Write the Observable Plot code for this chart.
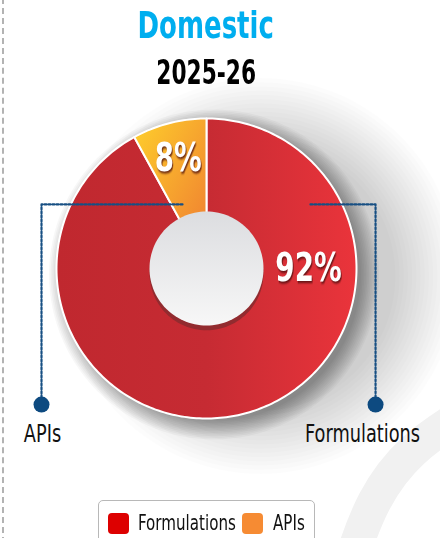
<!DOCTYPE html>
<html><head><meta charset="utf-8">
<script src="https://cdn.jsdelivr.net/npm/d3@7"></script>
<script src="https://cdn.jsdelivr.net/npm/@observablehq/plot@0.6"></script>
<style>
html,body{margin:0;padding:0;background:#fff;}
body{width:440px;height:538px;position:relative;overflow:hidden;font-family:"Liberation Sans Narrow","DejaVu Sans Condensed","DejaVu Sans",sans-serif;font-stretch:condensed;}
#dash{position:absolute;left:2px;top:-2px;height:545px;border-left:2px dashed #b3b3b3;}
.ttl{position:absolute;left:0;width:412px;text-align:center;font-weight:bold;}
.ttl span{display:inline-block;transform-origin:50% 50%;}
#title{top:6px;color:#00aeef;font-size:38px;line-height:38px;}
#title span{transform:scaleX(0.76);}
#sub{top:55px;color:#000;font-size:34px;line-height:34px;}
#sub span{transform:scaleX(0.71);}
#chart{position:absolute;top:90px;left:0;}
#legend{position:absolute;left:98px;top:500px;width:217px;height:50px;box-sizing:border-box;border:1.5px solid #b8b8b8;border-radius:5px;background:#fff;display:flex;align-items:flex-start;padding:10px 0 0 8.5px;font-size:21px;color:#111;white-space:nowrap;}
#legend .sw{width:21px;height:21px;border-radius:4px;display:inline-block;flex:none;}
#legend .it{display:flex;align-items:center;}
#legend .tx{display:inline-block;transform:scaleX(0.8);transform-origin:0 50%;}
</style></head>
<body>
<div id="dash"></div>
<div id="title" class="ttl"><span>Domestic</span></div>
<div id="sub" class="ttl"><span>2025-26</span></div>
<div id="chart"></div>
<div id="legend"></div>
<script>
// ---- data ----
const categories = ["Formulations", "APIs"];
const shares = [92, 8];
const pctLabels = ["92%", "8%"];
const legendColors = ["#dd0000", "#f68b33"];

// ---- layout ----
const W = 440, H = 400, cx = 206, cy = 178, rPx = 150;
const inner = 0.38;
const sx = 0.79; // horizontal condensing of text glyphs
const toXY = (a, r) => [r * Math.sin(a), r * Math.cos(a)];

const rows = categories.map((c, i) => ({category: c, share: shares[i], label: pctLabels[i]}));
const arcs = d3.pie().sort(null).value(d => d.share)(rows);

function arcPoints(a) {
  const pts = [{x: 0, y: 0}];
  const n = Math.max(8, Math.ceil((a.endAngle - a.startAngle) / 0.02));
  for (let k = 0; k <= n; k++) {
    const t = a.startAngle + (a.endAngle - a.startAngle) * k / n;
    const [x, y] = toXY(t, 1);
    pts.push({x, y});
  }
  return pts;
}
function circlePoints(x0, y0, r, id) {
  return d3.range(0, 361, 3).map(d => {
    const t = d * Math.PI / 180;
    return {id, x: x0 + r * Math.sin(t), y: y0 + r * Math.cos(t)};
  });
}
// soft shadow made of stacked translucent discs
const softShadow = (x0, y0, r0, r1, steps) =>
  d3.range(steps).flatMap(k => circlePoints(x0, y0, r1 - (r1 - r0) * k / (steps - 1), k));

// decorative background swoosh (page decoration, not data)
const swoosh = [
  {x: 1.75, y: -0.95}, {x: 1.35, y: -1.2}, {x: 1.1, y: -1.55}, {x: 0.98, y: -1.9}
];

// percentage label positions derived from the arcs
const labelPts = arcs.map(a => {
  const span = a.endAngle - a.startAngle;
  const ang = span > Math.PI ? Math.PI / 2 : (a.startAngle + a.endAngle) / 2;
  const rr = span > Math.PI ? 0.68 : 0.76;
  const [x, y] = toXY(ang, rr);
  return {x, y, label: a.data.label};
});

// callouts (annotation geometry)
const calloutY = 0.427, calloutEndY = -0.907;
const callouts = [
  {category: "Formulations", startX: 0.693, elbowX: 1.127, dx: -13},
  {category: "APIs", startX: -0.16, elbowX: -1.1, dx: 1}
];
const calloutLines = callouts.flatMap(c => [
  {id: c.category, x: c.startX, y: calloutY},
  {id: c.category, x: c.elbowX, y: calloutY},
  {id: c.category, x: c.elbowX, y: calloutEndY}
]);
const calloutEnds = callouts.map(c => ({x: c.elbowX, y: calloutEndY, text: c.category, dx: c.dx}));

const gradIds = ["gFormulations", "gAPIs"];

const chart = Plot.plot({
  width: W, height: H,
  margin: 0,
  x: {domain: [-cx / rPx, (W - cx) / rPx], axis: null},
  y: {domain: [-(H - cy) / rPx, cy / rPx], axis: null},
  style: {background: "transparent", overflow: "visible"},
  marks: [
    Plot.line(swoosh, {x: "x", y: "y", curve: "basis", stroke: "#f1f1f1", strokeWidth: 34, strokeLinecap: "round"}),
    Plot.line(softShadow(0.36, -0.05, 0.9, 1.32, 16), {x: "x", y: "y", z: "id", curve: "linear-closed", fill: "#000", fillOpacity: 0.011, stroke: "none"}),
    Plot.line(softShadow(0.05, -0.04, 0.98, 1.1, 12), {x: "x", y: "y", z: "id", curve: "linear-closed", fill: "#000", fillOpacity: 0.03, stroke: "none"}),
    ...arcs.map((a, i) => Plot.line(arcPoints(a), {x: "x", y: "y", curve: "linear-closed", fill: `url(#${gradIds[i]})`, stroke: "#fff", strokeWidth: 2, strokeLinejoin: "round"})),
    Plot.line(circlePoints(0, -0.032, inner, 0), {x: "x", y: "y", curve: "linear-closed", fill: "#922b2f", stroke: "none"}),
    Plot.line(circlePoints(0, 0, inner, 0), {x: "x", y: "y", curve: "linear-closed", fill: "url(#gHole)", stroke: "none"}),
    Plot.text(labelPts, {x: "x", y: "y", text: "label", fill: "#fff", fontSize: 39, fontWeight: "bold", ariaLabel: "pct"}),
    Plot.line(calloutLines, {x: "x", y: "y", z: "id", stroke: "#174f83", strokeWidth: 2.2, strokeDasharray: "2 2"}),
    Plot.dot(calloutEnds, {x: "x", y: "y", r: 8, fill: "#0d4a80"}),
    ...calloutEnds.map(c => Plot.text([c], {x: "x", y: "y", text: "text", dy: 29, dx: c.dx, fontSize: 25, fill: "#111"}))
  ]
});

const svg = d3.select(chart);
svg.attr("font-family", '"Liberation Sans Narrow","DejaVu Sans Condensed","DejaVu Sans",sans-serif').style("font-stretch", "condensed");
const defs = svg.insert("defs", ":first-child");
const gr = defs.append("linearGradient").attr("id", gradIds[0]).attr("x1", 0).attr("x2", 1).attr("y1", 0).attr("y2", 0);
gr.append("stop").attr("offset", "0").attr("stop-color", "#c0282f");
gr.append("stop").attr("offset", "0.5").attr("stop-color", "#c62b33");
gr.append("stop").attr("offset", "1").attr("stop-color", "#ea343b");
const go = defs.append("linearGradient").attr("id", gradIds[1]).attr("x1", 0.1).attr("x2", 0.9).attr("y1", 0.05).attr("y2", 0.95);
go.append("stop").attr("offset", "0").attr("stop-color", "#fdc92c");
go.append("stop").attr("offset", "1").attr("stop-color", "#ef7d31");
const gh = defs.append("linearGradient").attr("id", "gHole").attr("x1", 0).attr("x2", 0).attr("y1", 0).attr("y2", 1);
gh.append("stop").attr("offset", "0").attr("stop-color", "#dcdde0");
gh.append("stop").attr("offset", "1").attr("stop-color", "#f7f7f7");

// text shadow for the percentage labels (CSS filter function)
svg.selectAll("text").filter(function() { return this.getAttribute("fill") === "#fff" || (this.parentNode && this.parentNode.getAttribute("fill") === "#fff"); })
  .style("filter", "drop-shadow(1.5px 2px 1px rgba(74,12,12,0.8))");

// condense glyphs horizontally (no narrow font installed)
svg.selectAll("text").each(function() {
  const t = this.getAttribute("transform");
  if (t) {
    this.setAttribute("transform", `${t} scale(${sx},1)`);
  } else {
    const x = +(this.getAttribute("x") || 0), y = +(this.getAttribute("y") || 0);
    this.removeAttribute("x"); this.removeAttribute("y");
    this.setAttribute("transform", `translate(${x},${y}) scale(${sx},1)`);
  }
});

document.getElementById("chart").appendChild(chart);

// legend
const lg = d3.select("#legend");
categories.forEach((c, i) => {
  const it = lg.append("div").attr("class", "it").style("margin-right", i === 0 ? "7px" : "0");
  it.append("span").attr("class", "sw").style("background", legendColors[i]);
  const tx = it.append("span").attr("class", "tx").style("margin-left", i === 0 ? "9px" : "10px").text(c);
  const w = tx.node().offsetWidth;
  tx.style("margin-right", `${-(1 - 0.8) * w}px`);
});
</script>
</body></html>
